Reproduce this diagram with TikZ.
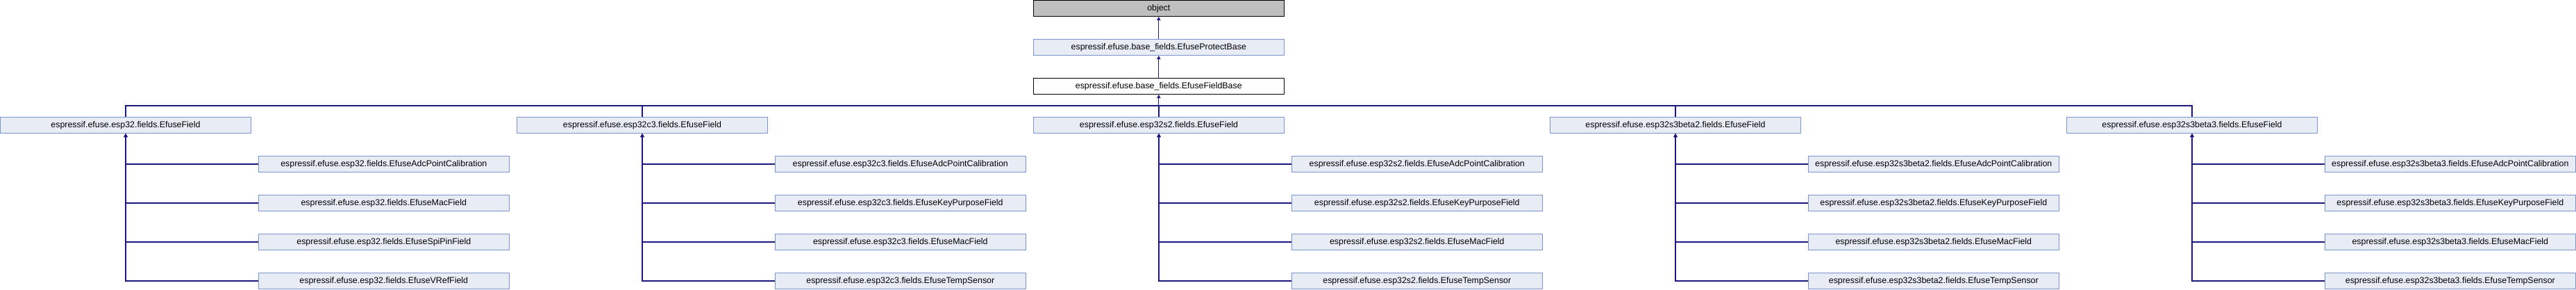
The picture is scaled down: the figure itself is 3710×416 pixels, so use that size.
\documentclass[tikz,border=0pt]{standalone}
\usepackage{fontspec}
\setmainfont{Liberation Sans}
\usetikzlibrary{arrows.meta}
\definecolor{edgecol}{HTML}{191980}
\definecolor{boxfill}{HTML}{E8ECF5}
\definecolor{boxline}{HTML}{7C93CB}
\definecolor{objfill}{HTML}{BFBFBF}
\tikzset{
  box/.style={draw, line width=1pt, rectangle, minimum width=361pt, minimum height=23pt,
    inner sep=0pt, font=\fontsize{12.4pt}{14pt}\selectfont, text=black},
  cls/.style={box, draw=boxline, fill=boxfill},
  objbox/.style={box, draw=black, fill=objfill},
  curbox/.style={box, draw=black, fill=white},
  link/.style={draw=edgecol, line width=1.2pt},
  inherit/.style={link, -{Triangle[length=5pt,width=5pt]}}
}
\begin{document}
\begin{tikzpicture}[x=1pt,y=-1pt]
\useasboundingbox (0,0) rectangle (3710,416);
\node[objbox] (obj) at (1668.8,12) {object};
\node[cls] (prot) at (1668.8,68) {espressif.efuse.base\_fields.EfuseProtectBase};
\node[curbox] (fbase) at (1668.8,124) {espressif.efuse.base\_fields.EfuseFieldBase};
\coordinate (bus) at (1668.8,152);
\draw[inherit] (prot.north) -- (obj.south);
\draw[inherit] (fbase.north) -- (prot.south);
\foreach \k/\m in {0/esp32,1/esp32c3,2/esp32s2,3/esp32s3beta2,4/esp32s3beta3} {
  \node[cls] (f\k) at ({744*\k+181},180) {espressif.efuse.\m.fields.EfuseField};
  \draw[link] (f\k.north) |- (bus);
}
\draw[inherit] (bus) -- (fbase.south);
% esp32 children
\foreach \i/\c in {1/EfuseAdcPointCalibration,2/EfuseMacField,3/EfuseSpiPinField,4/EfuseVRefField} {
  \node[cls] (c0\i) at (552.8,{180+56*\i}) {espressif.efuse.esp32.fields.\c};
  \draw[inherit] (c0\i.west) -| (f0.south);
}
% other families
\foreach \k/\m in {1/esp32c3,2/esp32s2,3/esp32s3beta2,4/esp32s3beta3} {
  \foreach \i/\c in {1/EfuseAdcPointCalibration,2/EfuseKeyPurposeField,3/EfuseMacField,4/EfuseTempSensor} {
    \node[cls] (c\k\i) at ({744*\k+552.8},{180+56*\i}) {espressif.efuse.\m.fields.\c};
    \draw[inherit] (c\k\i.west) -| (f\k.south);
  }
}
\end{tikzpicture}
\end{document}
